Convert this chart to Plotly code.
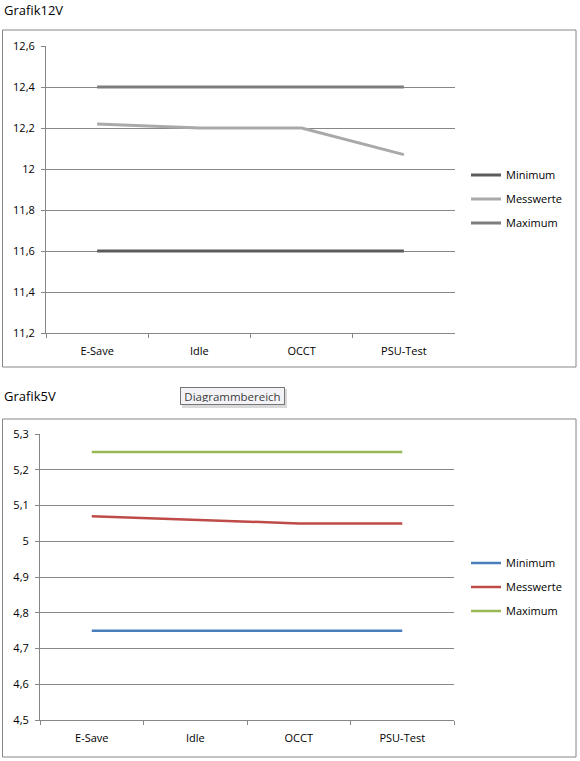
import plotly.graph_objects as go

# ---------------- data ----------------
categories = ["E-Save", "Idle", "OCCT", "PSU-Test"]

v12_minimum = [11.6, 11.6, 11.6, 11.6]
v12_messwerte = [12.22, 12.2, 12.2, 12.07]
v12_maximum = [12.4, 12.4, 12.4, 12.4]
v12_tickvals = [11.2, 11.4, 11.6, 11.8, 12.0, 12.2, 12.4, 12.6]
v12_ticktext = ["11,2", "11,4", "11,6", "11,8", "12", "12,2", "12,4", "12,6"]

v5_minimum = [4.75, 4.75, 4.75, 4.75]
v5_messwerte = [5.07, 5.06, 5.05, 5.05]
v5_maximum = [5.25, 5.25, 5.25, 5.25]
v5_tickvals = [4.5, 4.6, 4.7, 4.8, 4.9, 5.0, 5.1, 5.2, 5.3]
v5_ticktext = ["4,5", "4,6", "4,7", "4,8", "4,9", "5", "5,1", "5,2", "5,3"]

series_names = ["Minimum", "Messwerte", "Maximum"]
colors_12 = ["#5c5c5c", "#a9a9a9", "#7d7d7d"]
colors_5 = ["#4a7ebb", "#be4b48", "#98b954"]

# ---------------- layout helpers ----------------
W, H = 580, 761
FONT = "Open Sans"
GRID = "#878787"


def px(x):
    return x / W


def py(y):
    return 1 - y / H


fig = go.Figure()

for i, (name, vals) in enumerate(zip(series_names, [v12_minimum, v12_messwerte, v12_maximum])):
    fig.add_trace(go.Scatter(
        x=categories, y=vals, name=name, mode="lines",
        line=dict(color=colors_12[i], width=3),
        xaxis="x", yaxis="y", legend="legend", legendgroup="a" + name,
        hoverinfo="skip"))

for i, (name, vals) in enumerate(zip(series_names, [v5_minimum, v5_messwerte, v5_maximum])):
    fig.add_trace(go.Scatter(
        x=categories, y=vals, name=name, mode="lines",
        line=dict(color=colors_5[i], width=2.5),
        xaxis="x2", yaxis="y2", legend="legend2", legendgroup="b" + name,
        hoverinfo="skip"))

xaxis_common = dict(
    type="category", range=[-0.5, 3.5], showline=True, linecolor=GRID, linewidth=1,
    ticks="outside", tickson="boundaries", ticklen=4, tickcolor=GRID,
    showgrid=False, zeroline=False, fixedrange=True, automargin=False,
    tickfont=dict(family=FONT, size=11, color="#000000"), ticklabelstandoff=8,
)
yaxis_common = dict(
    showline=True, linecolor=GRID, linewidth=1, ticks="outside", ticklen=4,
    tickcolor=GRID, showgrid=True, gridcolor=GRID, gridwidth=1, zeroline=False,
    tickfont=dict(family=FONT, size=11, color="#000000"), fixedrange=True,
    ticklabelstandoff=4, automargin=False,
)

legend_common = dict(
    xanchor="left", yanchor="middle", bgcolor="rgba(0,0,0,0)",
    font=dict(family=FONT, size=11, color="#000000"),
    traceorder="grouped", tracegroupgap=5, itemwidth=30,
)

fig.update_layout(
    width=W, height=H,
    margin=dict(l=0, r=0, t=0, b=0, autoexpand=False),
    paper_bgcolor="white", plot_bgcolor="white",
    separators=",.",
    xaxis=dict(domain=[px(46), px(455)], anchor="y", **xaxis_common),
    yaxis=dict(domain=[py(333), py(46)], anchor="x", range=[11.2, 12.6],
               tickvals=v12_tickvals, ticktext=v12_ticktext, **yaxis_common),
    xaxis2=dict(domain=[px(40), px(454)], anchor="y2", **xaxis_common),
    yaxis2=dict(domain=[py(720), py(434)], anchor="x2", range=[4.5, 5.3],
                tickvals=v5_tickvals, ticktext=v5_ticktext, **yaxis_common),
    legend=dict(x=px(466), y=py(199), **legend_common),
    legend2=dict(x=px(466), y=py(587), **legend_common),
    showlegend=True,
)

# chart area borders
fig.add_shape(type="rect", xref="paper", yref="paper",
              x0=px(2.5), x1=px(576), y0=py(367), y1=py(30),
              line=dict(color=GRID, width=1), fillcolor="rgba(0,0,0,0)", layer="below")
fig.add_shape(type="rect", xref="paper", yref="paper",
              x0=px(2.5), x1=px(576), y0=py(757), y1=py(419),
              line=dict(color=GRID, width=1), fillcolor="rgba(0,0,0,0)", layer="below")

# titles
fig.add_annotation(text="Grafik12V", xref="paper", yref="paper", x=px(2), y=py(10),
                   xanchor="left", yanchor="middle", showarrow=False,
                   font=dict(family=FONT, size=13, color="#000000"))
fig.add_annotation(text="Grafik5V", xref="paper", yref="paper", x=px(2), y=py(396),
                   xanchor="left", yanchor="middle", showarrow=False,
                   font=dict(family=FONT, size=13, color="#000000"))

# tooltip "Diagrammbereich"
fig.add_shape(type="rect", xref="paper", yref="paper",
              x0=px(182), x1=px(287), y0=py(408), y1=py(389),
              line=dict(width=0), fillcolor="rgba(0,0,0,0.15)")
fig.add_annotation(text="Diagrammbereich", xref="paper", yref="paper",
                   x=px(232), y=py(396), xanchor="center", yanchor="middle",
                   showarrow=False, bgcolor="#f3f3f7", bordercolor="#767676",
                   borderwidth=1, borderpad=2, width=99, height=12,
                   font=dict(family=FONT, size=11.5, color="#3c3c3c"))

fig.write_html("out.html")
